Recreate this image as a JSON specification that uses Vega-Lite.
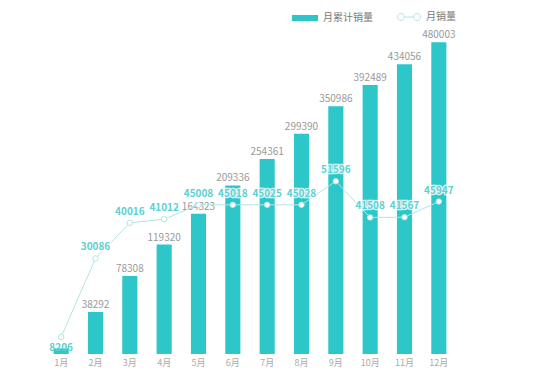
{
  "$schema": "https://vega.github.io/schema/vega-lite/v6.json",
  "width": 412,
  "height": 324,
  "autosize": {"type": "none"},
  "padding": {"left": 44, "top": 30, "right": 94, "bottom": 24},
  "background": "white",
  "config": {
    "view": {"stroke": null},
    "font": "Noto Sans CJK SC",
    "axis": {"grid": false}
  },
  "data": {
    "values": [
      {"month": "1月", "cum": 8206, "monthly": 8206},
      {"month": "2月", "cum": 38292, "monthly": 30086},
      {"month": "3月", "cum": 78308, "monthly": 40016},
      {"month": "4月", "cum": 119320, "monthly": 41012},
      {"month": "5月", "cum": 164323, "monthly": 45008},
      {"month": "6月", "cum": 209336, "monthly": 45018},
      {"month": "7月", "cum": 254361, "monthly": 45025},
      {"month": "8月", "cum": 299390, "monthly": 45028},
      {"month": "9月", "cum": 350986, "monthly": 51596},
      {"month": "10月", "cum": 392489, "monthly": 41508},
      {"month": "11月", "cum": 434056, "monthly": 41567},
      {"month": "12月", "cum": 480003, "monthly": 45947}
    ]
  },
  "encoding": {
    "x": {
      "field": "month",
      "type": "ordinal",
      "sort": null,
      "scale": {"paddingInner": 0.56, "paddingOuter": 0.28},
      "axis": {
        "title": null,
        "labelAngle": 0,
        "domain": false,
        "ticks": false,
        "labelColor": "#aaaaaa",
        "labelFontSize": 9,
        "labelPadding": 4
      }
    }
  },
  "layer": [
    {
      "encoding": {
        "y": {
          "field": "cum",
          "type": "quantitative",
          "scale": {"type": "pow", "exponent": 0.7, "domain": [5000, 506000], "zero": false, "nice": false, "clamp": true},
          "axis": null
        }
      },
      "layer": [
        {
          "mark": {"type": "bar"},
          "encoding": {
            "fill": {
              "datum": "月累计销量",
              "scale": {"range": ["#2ec7c9"]},
              "legend": {
                "title": null,
                "orient": "none",
                "legendX": 248,
                "legendY": -25,
                "symbolType": "M-1,-0.23L1,-0.23L1,0.23L-1,0.23Z",
                "symbolSize": 676,
                "symbolStrokeWidth": 0,
                "labelColor": "#777777",
                "labelFontSize": 10,
                "labelOffset": 5
              }
            }
          }
        },
        {
          "transform": [{"filter": "datum.month !== '1月'"}],
          "mark": {"type": "text", "dy": -7, "color": "#999999", "fontSize": 10},
          "encoding": {"text": {"field": "cum", "type": "nominal"}}
        }
      ]
    },
    {
      "encoding": {
        "y": {
          "field": "monthly",
          "type": "quantitative",
          "scale": {"domain": [3471, 93721], "zero": false, "nice": false},
          "axis": null
        }
      },
      "layer": [
        {
          "mark": {"type": "line", "strokeWidth": 1},
          "encoding": {
            "stroke": {
              "datum": "月销量",
              "scale": {"range": ["#b3e4e6"]},
              "legend": {
                "title": null,
                "orient": "none",
                "legendX": 353,
                "legendY": -25,
                "symbolType": "M-1,0A0.3,0.3,0,1,1,-0.4,0A0.3,0.3,0,1,1,-1,0M-0.4,0L0.4,0M0.4,0A0.3,0.3,0,1,1,1,0A0.3,0.3,0,1,1,0.4,0",
                "symbolSize": 529,
                "symbolFillColor": "white",
                "symbolStrokeColor": "#b3e4e6",
                "symbolStrokeWidth": 1,
                "labelColor": "#777777",
                "labelFontSize": 10,
                "labelOffset": 5
              }
            }
          }
        },
        {
          "mark": {"type": "point", "shape": "circle", "filled": true, "fill": "white", "stroke": "#b3e4e6", "strokeWidth": 1, "size": 30, "opacity": 1}
        },
        {
          "transform": [{"filter": "datum.month !== '1月'"}],
          "mark": {"type": "text", "dy": -11, "fontSize": 10, "fontWeight": "bold", "fill": "white", "stroke": "white", "strokeWidth": 2.5, "strokeOpacity": 0.8},
          "encoding": {"text": {"field": "monthly", "type": "nominal"}}
        },
        {
          "transform": [{"filter": "datum.month !== '1月'"}],
          "mark": {"type": "text", "dy": -11, "fontSize": 10, "fontWeight": "bold", "color": "#5ccfd1"},
          "encoding": {"text": {"field": "monthly", "type": "nominal"}}
        },
        {
          "transform": [{"filter": "datum.month === '1月'"}],
          "mark": {"type": "text", "dy": 11, "fontSize": 10, "fontWeight": "bold", "color": "#5ccfd1"},
          "encoding": {"text": {"field": "monthly", "type": "nominal"}}
        }
      ]
    }
  ],
  "resolve": {"scale": {"y": "independent"}}
}
